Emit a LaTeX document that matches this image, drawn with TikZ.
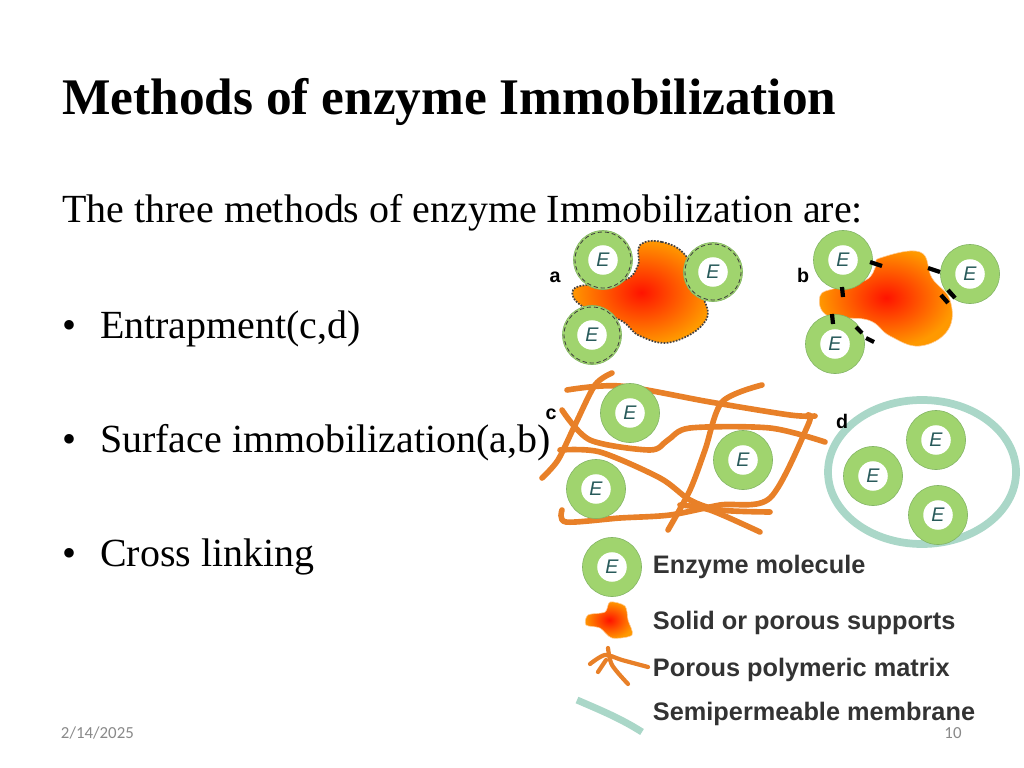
\documentclass[tikz,border=0pt]{standalone}
\usepackage{fontspec}
\setmainfont{Liberation Serif}
\newfontfamily\legendfont{Liberation Sans}
\newfontfamily\footfont{Carlito}
\usetikzlibrary{positioning}
\definecolor{enzgreen}{RGB}{160,212,110}
\definecolor{enzedge}{RGB}{130,180,100}
\definecolor{enztext}{RGB}{40,90,90}
\definecolor{matrixorange}{RGB}{232,128,40}
\definecolor{membrane}{RGB}{170,215,200}
\definecolor{footgray}{RGB}{137,137,137}
\tikzset{
  enzyme/.style={circle, fill=enzgreen, draw=enzedge, minimum size=42pt, inner sep=0pt,
    path picture={\fill[white] (path picture bounding box.center) circle[radius=10.5pt];
      \node[text=enztext, font=\legendfont\itshape\fontsize{14}{14}\selectfont] at (path picture bounding box.center) {E};}},
  dashring/.style={draw=black!75, densely dashed, line width=0.6pt},
  support/.style={inner color=red!85!orange, outer color=orange!80!yellow, draw=orange!40!white},
  matrix line/.style={draw=matrixorange, line width=4pt, line cap=round, line join=round},
  panel/.style={font=\legendfont\bfseries\fontsize{14}{14}\selectfont},
  legend/.style={font=\legendfont\bfseries\fontsize{18}{20}\selectfont, anchor=west, text=black!80},
  bullet item/.style={font=\fontsize{28.4}{32}\selectfont, anchor=base west}
}
\begin{document}
\begin{tikzpicture}[x=0.025cm, y=-0.025cm]
  \useasboundingbox (0,0) rectangle (1024,768);

  % title and text
  \node[font=\fontsize{36.5}{42}\selectfont\bfseries, anchor=base west, inner sep=0pt] (title) at (62,115) {Methods of enzyme Immobilization};
  \node[bullet item, inner sep=0pt] (intro) at (62,222) {The three methods of enzyme Immobilization are:};
  \node[bullet item, inner sep=0pt] (b1) at (62,338) {\textbullet\hspace{0.6em}Entrapment(c,d)};
  \node[bullet item, inner sep=0pt] (b2) at (62,452) {\textbullet\hspace{0.6em}Surface immobilization(a,b)};
  \node[bullet item, inner sep=0pt] (b3) at (62,566) {\textbullet\hspace{0.6em}Cross linking};

  % panel a
  \path[support] plot[smooth cycle, tension=0.7] coordinates {(640,245) (662,242) (686,256) (700,290) (706,320) (672,342) (640,336) (620,320) (582,306) (573,290) (592,284) (625,280) (638,265)};
  \draw[black!75, densely dotted, line width=1.2pt] plot[smooth cycle, tension=0.7] coordinates {(640,245) (662,242) (686,256) (700,290) (706,320) (672,342) (640,336) (620,320) (582,306) (573,290) (592,284) (625,280) (638,265)};
  \node[enzyme] (ea1) at (603,260) {};
  \node[enzyme] (ea2) at (713,272) {};
  \node[enzyme] (ea3) at (592,335) {};
  \foreach \e in {ea1,ea2,ea3} \draw[dashring] (\e) circle[radius=28];
  \node[panel] (la) at (555,277) {a};

  % panel b
  \path[support] plot[smooth cycle, tension=0.7] coordinates {(880,258) (920,252) (932,278) (950,300) (948,330) (920,346) (890,336) (868,320) (828,316) (820,296) (836,288) (866,280) (876,266)};
  \node[enzyme] (eb1) at (843,260) {};
  \node[enzyme] (eb2) at (970,274) {};
  \node[enzyme] (eb3) at (835,344) {};
  \foreach \a/\b in {{(870,262)}/{(882,266)}, {(842,287)}/{(843,297)}, {(928,268)}/{(940,272)}, {(941,295)}/{(948,303)}, {(948,290)}/{(955,298)}, {(832,314)}/{(833,324)}, {(856,327)}/{(862,333)}, {(866,338)}/{(874,342)}}
    \draw[line width=3pt] \a -- \b;
  \node[panel] (lb) at (803,275) {b};

  % panel c
  \draw[matrix line] plot[smooth] coordinates {(567,390) (620,386) (710,402) (790,415) (815,416)};
  \draw[matrix line] plot[smooth] coordinates {(612,373) (595,385) (575,425) (558,460) (542,478)};
  \draw[matrix line] plot[smooth] coordinates {(562,410) (590,440) (650,450) (668,440) (690,428) (770,428) (825,442)};
  \draw[matrix line] plot[smooth] coordinates {(560,450) (600,452) (660,478) (690,500) (720,510) (770,512)};
  \draw[matrix line] plot[smooth] coordinates {(762,385) (722,402) (705,450) (690,490) (668,530)};
  \draw[matrix line] plot[smooth] coordinates {(562,510) (566,522) (620,518) (670,515) (720,505) (770,498) (808,425) (808,415)};
  \draw[matrix line] plot[smooth] coordinates {(680,505) (710,510) (760,532)};
  \node[enzyme] (ec1) at (630,413) {};
  \node[enzyme] (ec2) at (743,460) {};
  \node[enzyme] (ec3) at (596,489) {};
  \node[panel, inner sep=1pt] (lc) at (551,414) {c};

  % panel d
  \draw[membrane, line width=5.5pt] (922,472) ellipse[x radius=94, y radius=72];
  \node[enzyme] (ed1) at (936,440) {};
  \node[enzyme] (ed2) at (873,476) {};
  \node[enzyme] (ed3) at (938,515) {};
  \node[panel] (ld) at (842,421) {d};

  % legend
  \node[enzyme] (le) at (612,567) {};
  \node[legend] (te) at (648,567) {Enzyme molecule};
  \path[support] plot[smooth cycle] coordinates {(588,615) (605,612) (610,602) (625,606) (628,620) (632,635) (612,638) (600,628) (586,625)};
  \node[legend] (ts) at (648,623) {Solid or porous supports};
  \draw[matrix line, line width=3pt] plot[smooth] coordinates {(590,664) (605,655) (622,660) (648,667)};
  \draw[matrix line, line width=3pt] plot[smooth] coordinates {(608,648) (612,665) (628,684)};
  \draw[matrix line, line width=3pt] (598,672) -- (606,660);
  \node[legend] (tm) at (648,670) {Porous polymeric matrix};
  \draw[membrane, line width=5pt] (577,700) .. controls (600,710) and (620,718) .. (642,732);
  \node[legend] (tmb) at (648,714) {Semipermeable membrane};

  % footer
  \node[font=\footfont\fontsize{12}{14}\selectfont, text=footgray, anchor=west] (date) at (56,733) {2/14/2025};
  \node[font=\footfont\fontsize{12}{14}\selectfont, text=footgray] (page) at (953,733) {10};
\end{tikzpicture}
\end{document}
